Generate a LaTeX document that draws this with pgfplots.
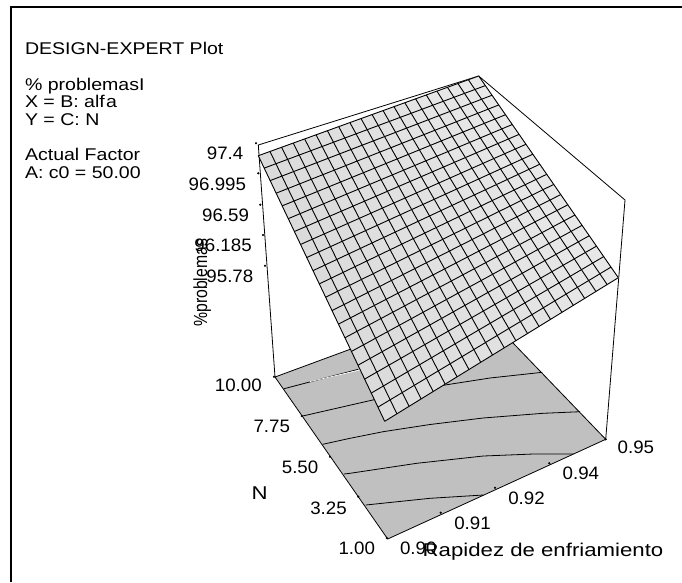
\documentclass[border=0pt]{standalone}
\usepackage{pgfplots}
\usepackage{fontspec}
\setmainfont{Liberation Sans}
\pgfplotsset{compat=1.18}
\tikzset{every node/.style={inner sep=0pt, outer sep=0pt}}
\newcommand\tk[1]{\fontsize{18}{18}\selectfont\scalebox{1.04}[1]{#1}}
\newcommand\tx[1]{\fontsize{17}{17}\selectfont\scalebox{1.15}[1]{#1}}
\newcommand\lx[1]{\fontsize{18.5}{18.5}\selectfont\scalebox{1.2}[1]{#1}}
\begin{document}
\begin{tikzpicture}[x=1pt,y=1pt]
\begin{axis}[
  scale only axis, width=682pt, height=582pt,
  xmin=0, xmax=682, ymin=0, ymax=582, y dir=reverse,
  hide axis, clip=true,
]
\path (axis cs:0,0) rectangle (axis cs:682,582);
% frame
\addplot[black, line width=2pt] coordinates {(11,582) (11,6.5) (682,6.5)};
% floor
\addplot[fill={rgb,255:red,192;green,192;blue,192}, draw=none] coordinates {(275,377) (474.8,303.3) (605.7,439.3) (387.7,539)};
\addplot[black, line width=0.8pt] coordinates {(275,377) (474.8,303.3) (605.7,439.3) (387.7,539) (275,377)};
% contours
\addplot[black, line width=0.8pt] coordinates {(284,388.7) (358.3,369.3)};
\addplot[white, line width=0.7pt] coordinates {(310,381.6) (360,369.9)};
\addplot[black, line width=0.8pt] coordinates {(302.7,416) (372.7,400) (445,385) (490,378) (542.3,372.3)};
\addplot[black, line width=0.8pt] coordinates {(322.7,444.3) (350,438.3) (383,431.7) (430,424.5) (483,418) (543,413.3) (580,411.7)};
\addplot[black, line width=0.8pt] coordinates {(344,474) (350,473.3) (416.7,463.3) (483.3,456) (533.3,454) (573.3,454)};
\addplot[black, line width=0.8pt] coordinates {(365.7,505) (430,498.3) (483.3,495)};
% box
\addplot[black, line width=0.8pt] coordinates {(275,377) (258.3,145) (478.7,76) (625,200) (605.7,439.3)};
% ticks
\addplot[only marks, mark=*, mark size=0.9pt, black] coordinates {(256,143.3) (258.3,173.3) (260.3,204.7) (263,235) (265,265.7)
 (274,376.7) (301.7,416) (330,456.7) (358.3,496.7) (386.7,538)
 (440.7,512.7) (495,487.7) (549.3,463.3) (605.7,439.3)};
% surface strips
\addplot[fill=black!14.0,draw=black!14.0,line width=0.3pt] coordinates {(258.3,155.7) (270.0,151.47) (396.9,413.8) (384.7,421.3)};
\addplot[fill=black!13.7,draw=black!13.7,line width=0.3pt] coordinates {(270.0,151.47) (281.63,147.26) (409.05,406.33) (396.9,413.8)};
\addplot[fill=black!13.5,draw=black!13.5,line width=0.3pt] coordinates {(281.63,147.26) (293.19,143.08) (421.14,398.90) (409.05,406.33)};
\addplot[fill=black!13.2,draw=black!13.2,line width=0.3pt] coordinates {(293.19,143.08) (304.67,138.93) (433.17,391.5) (421.14,398.90)};
\addplot[fill=black!13.0,draw=black!13.0,line width=0.3pt] coordinates {(304.67,138.93) (316.08,134.81) (445.15,384.14) (433.17,391.5)};
\addplot[fill=black!12.7,draw=black!12.7,line width=0.3pt] coordinates {(316.08,134.81) (327.43,130.70) (457.08,376.81) (445.15,384.14)};
\addplot[fill=black!12.4,draw=black!12.4,line width=0.3pt] coordinates {(327.43,130.70) (338.70,126.63) (468.95,369.51) (457.08,376.81)};
\addplot[fill=black!12.2,draw=black!12.2,line width=0.3pt] coordinates {(338.70,126.63) (349.90,122.58) (480.77,362.25) (468.95,369.51)};
\addplot[fill=black!11.9,draw=black!11.9,line width=0.3pt] coordinates {(349.90,122.58) (361.02,118.56) (492.53,355.02) (480.77,362.25)};
\addplot[fill=black!11.6,draw=black!11.6,line width=0.3pt] coordinates {(361.02,118.56) (372.08,114.56) (504.24,347.82) (492.53,355.02)};
\addplot[fill=black!11.4,draw=black!11.4,line width=0.3pt] coordinates {(372.08,114.56) (383.06,110.59) (515.89,340.66) (504.24,347.82)};
\addplot[fill=black!11.1,draw=black!11.1,line width=0.3pt] coordinates {(383.06,110.59) (393.97,106.64) (527.49,333.53) (515.89,340.66)};
\addplot[fill=black!10.8,draw=black!10.8,line width=0.3pt] coordinates {(393.97,106.64) (404.82,102.72) (539.03,326.43) (527.49,333.53)};
\addplot[fill=black!10.6,draw=black!10.6,line width=0.3pt] coordinates {(404.82,102.72) (415.58,98.83) (550.52,319.37) (539.03,326.43)};
\addplot[fill=black!10.3,draw=black!10.3,line width=0.3pt] coordinates {(415.58,98.83) (426.28,94.96) (561.96,312.34) (550.52,319.37)};
\addplot[fill=black!10.0,draw=black!10.0,line width=0.3pt] coordinates {(426.28,94.96) (436.91,91.12) (573.34,305.34) (561.96,312.34)};
\addplot[fill=black!9.8,draw=black!9.8,line width=0.3pt] coordinates {(436.91,91.12) (447.46,87.30) (584.66,298.38) (573.34,305.34)};
\addplot[fill=black!9.5,draw=black!9.5,line width=0.3pt] coordinates {(447.46,87.30) (457.95,83.51) (595.93,291.46) (584.66,298.38)};
\addplot[fill=black!9.2,draw=black!9.2,line width=0.3pt] coordinates {(457.95,83.51) (468.36,79.74) (607.15,284.56) (595.93,291.46)};
\addplot[fill=black!9.0,draw=black!9.0,line width=0.3pt] coordinates {(468.36,79.74) (478.7,76.0) (618.3,277.7) (607.15,284.56)};
% grid lines, one direction
\pgfplotsset{gl/.style={black, line width=0.9pt}}
\addplot[gl] coordinates {(258.3,155.7) (384.7,421.3)};
\addplot[gl] coordinates {(270.0,151.47) (396.9,413.8)};
\addplot[gl] coordinates {(281.63,147.26) (409.05,406.33)};
\addplot[gl] coordinates {(293.19,143.08) (421.14,398.90)};
\addplot[gl] coordinates {(304.67,138.93) (433.17,391.5)};
\addplot[gl] coordinates {(316.08,134.81) (445.15,384.14)};
\addplot[gl] coordinates {(327.43,130.70) (457.08,376.81)};
\addplot[gl] coordinates {(338.70,126.63) (468.95,369.51)};
\addplot[gl] coordinates {(349.90,122.58) (480.77,362.25)};
\addplot[gl] coordinates {(361.02,118.56) (492.53,355.02)};
\addplot[gl] coordinates {(372.08,114.56) (504.24,347.82)};
\addplot[gl] coordinates {(383.06,110.59) (515.89,340.66)};
\addplot[gl] coordinates {(393.97,106.64) (527.49,333.53)};
\addplot[gl] coordinates {(404.82,102.72) (539.03,326.43)};
\addplot[gl] coordinates {(415.58,98.83) (550.52,319.37)};
\addplot[gl] coordinates {(426.28,94.96) (561.96,312.34)};
\addplot[gl] coordinates {(436.91,91.12) (573.34,305.34)};
\addplot[gl] coordinates {(447.46,87.30) (584.66,298.38)};
\addplot[gl] coordinates {(457.95,83.51) (595.93,291.46)};
\addplot[gl] coordinates {(468.36,79.74) (607.15,284.56)};
\addplot[gl] coordinates {(478.7,76.0) (618.3,277.7)};
% grid lines, other direction
\addplot[gl] coordinates {(258.3,155.7) (478.7,76.0)};
\addplot[gl] coordinates {(264.2,168.1) (485.34,85.6)};
\addplot[gl] coordinates {(270.15,180.59) (492.02,95.25)};
\addplot[gl] coordinates {(276.14,193.18) (498.74,104.95)};
\addplot[gl] coordinates {(282.17,205.86) (505.49,114.71)};
\addplot[gl] coordinates {(288.25,218.63) (512.27,124.51)};
\addplot[gl] coordinates {(294.37,231.49) (519.10,134.37)};
\addplot[gl] coordinates {(300.53,244.44) (525.95,144.27)};
\addplot[gl] coordinates {(306.74,257.49) (532.84,154.23)};
\addplot[gl] coordinates {(313.0,270.63) (539.77,164.24)};
\addplot[gl] coordinates {(319.3,283.87) (546.73,174.30)};
\addplot[gl] coordinates {(325.63,297.19) (553.73,184.41)};
\addplot[gl] coordinates {(332.02,310.61) (560.76,194.57)};
\addplot[gl] coordinates {(338.45,324.12) (567.83,204.78)};
\addplot[gl] coordinates {(344.93,337.73) (574.93,215.04)};
\addplot[gl] coordinates {(351.44,351.42) (582.07,225.36)};
\addplot[gl] coordinates {(358.0,365.21) (589.24,235.72)};
\addplot[gl] coordinates {(364.61,379.09) (596.45,246.14)};
\addplot[gl] coordinates {(371.27,393.07) (603.69,256.60)};
\addplot[gl] coordinates {(377.96,407.13) (610.97,267.12)};
\addplot[gl] coordinates {(384.7,421.3) (618.3,277.7)};
% header text
\node[anchor=base west] at (axis cs:25,54) {\tx{DESIGN-EXPERT Plot}};
\node[anchor=base west] at (axis cs:25,90) {\tx{\% problemasI}};
\node[anchor=base west] at (axis cs:25,107.3) {\tx{X = B: alf\kern1pt a}};
\node[anchor=base west] at (axis cs:25,125) {\tx{Y = C: N}};
\node[anchor=base west] at (axis cs:25,160.7) {\tx{Actual Factor}};
\node[anchor=base west] at (axis cs:25,178.3) {\tx{A: c0 = 50.00}};
% z ticks
\node[anchor=base east] at (axis cs:243.3,159.3) {\tk{97.4}};
\node[anchor=base east] at (axis cs:246,190.7) {\tk{96.995}};
\node[anchor=base east] at (axis cs:249,221.7) {\tk{96.59}};
\node[anchor=base east] at (axis cs:251.7,251.7) {\tk{96.185}};
\node[anchor=base east] at (axis cs:253.3,282.3) {\tk{95.78}};
\node[anchor=base west, rotate=90] at (axis cs:207,326.7) {\fontsize{19}{19}\selectfont\scalebox{0.83}[1]{\%problemas}};
% y ticks
\node[anchor=base east] at (axis cs:261.7,391.7) {\tk{10.00}};
\node[anchor=base east] at (axis cs:290,432.7) {\tk{7.75}};
\node[anchor=base east] at (axis cs:318.3,473.3) {\tk{5.50}};
\node[anchor=base east] at (axis cs:346.7,514) {\tk{3.25}};
\node[anchor=base east] at (axis cs:375,554) {\tk{1.00}};
\node[anchor=base west] at (axis cs:251.7,499) {\lx{N}};
% x ticks
\node[anchor=base west] at (axis cs:400,554) {\tk{0.90}};
\node[anchor=base west] at (axis cs:454.3,529) {\tk{0.91}};
\node[anchor=base west] at (axis cs:508.3,504) {\tk{0.92}};
\node[anchor=base west] at (axis cs:562.7,479) {\tk{0.94}};
\node[anchor=base west] at (axis cs:617.7,453.3) {\tk{0.95}};
\node[anchor=base west] at (axis cs:422.7,556.7) {\lx{Rapidez de enfriamiento}};
\end{axis}
\end{tikzpicture}
\end{document}
